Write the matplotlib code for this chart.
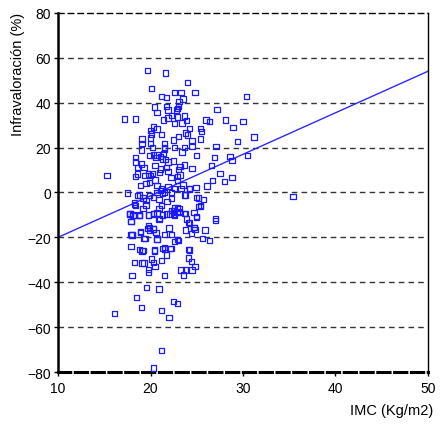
import numpy as np
import matplotlib.pyplot as plt

plt.rcParams['font.family'] = ['Liberation Sans', 'DejaVu Sans']

# IMC (x) and infravaloración (y)
imc = [19.7, 21.6, 24.0, 20.1, 21.2, 21.7, 22.6, 23.3, 23.5, 24.8, 30.4, 23.1, 20.4, 20.7,
       21.7, 21.9, 22.9, 23.0, 22.8, 27.2, 17.2, 18.4, 21.4, 21.9, 22.3, 22.9, 23.7, 23.9,
       22.6, 23.4, 26.0, 26.4, 28.1, 30.0, 28.9, 31.2, 29.4, 25.4, 25.5, 24.2, 23.8, 24.0,
       23.0, 22.5, 20.0, 20.3, 20.7, 21.2, 19.1, 19.1, 20.0, 20.0, 20.2,
       25.4, 24.5, 24.5, 23.7, 22.6, 21.5, 21.5, 27.1, 25.0, 26.9, 28.6, 28.8, 30.5, 26.6,
       27.5, 28.8, 28.0, 26.7, 26.1, 24.9, 24.2, 24.5,
       23.7, 23.2, 23.0, 23.2, 22.9, 22.9, 23.5, 23.3, 22.6, 22.3, 21.9, 22.2, 21.9, 21.7,
       21.9, 21.3, 20.6, 20.5, 20.2, 20.0, 19.9, 19.4, 18.4, 18.9, 18.6, 18.4, 18.4, 18.6,
       19.0, 19.3, 19.8, 19.9, 20.3, 20.7, 21.1, 21.5, 21.6, 21.1, 21.2, 20.7, 20.7, 21.1,
       21.3, 21.5, 15.3, 17.5, 18.6, 18.8, 19.2, 19.5, 19.9, 20.3, 19.5, 18.4, 18.3, 17.8,
       18.1, 18.8, 19.2, 19.8, 20.3, 20.9, 21.2, 22.3, 22.6, 23.1, 22.9, 22.5, 23.8, 23.7,
       24.7, 25.2, 25.7, 25.4, 25.0, 27.0, 35.4,
       17.7, 18.1, 18.8, 17.9, 19.8, 20.3, 20.7, 21.3, 21.7, 22.1, 22.6, 22.5, 23.1, 23.8,
       23.9, 24.2, 25.0, 25.4, 27.0, 24.7, 23.8, 24.4, 25.9, 25.6, 26.4, 19.8, 19.7, 20.3,
       19.9, 18.9, 17.9, 18.0, 19.3, 20.6, 20.7, 21.5, 22.0, 22.3, 22.6, 23.0, 21.0, 20.9,
       17.9, 18.8, 19.1, 20.4, 21.3, 21.5, 22.1, 21.7, 24.1, 24.2, 21.2, 24.1, 24.4, 24.8,
       24.5, 18.3, 19.1, 19.3, 20.1, 20.3, 20.5, 19.8, 19.8, 23.3, 23.8, 23.6, 21.5, 18.0,
       19.6, 20.9, 18.5, 22.5, 22.9, 19.0, 21.2, 16.1, 22.0, 21.2, 20.3,
       17.8, 17.9, 18.0, 18.8, 18.9, 19.2, 19.9, 20.3, 19.4, 20.7, 20.4, 21.5, 22.2, 22.9,
       24.7, 24.8, 24.1, 25.2, 25.0, 24.2, 23.7, 22.9, 23.1, 22.6, 22.3, 21.8, 20.9, 19.5,
       20.5, 21.0, 18.3, 19.0, 20.1, 21.4, 22.5, 23.4]

infra = [54.3, 53.3, 49.1, 46.4, 42.7, 42.2, 44.5, 44.5, 41.7, 44.5, 42.7, 40.5, 38.1, 35.6,
         38.4, 36.8, 37.5, 38.4, 36.8, 36.9, 32.8, 32.8, 32.3, 33.1, 34.2, 33.6, 34.0, 32.0,
         30.8, 31.0, 32.3, 31.7, 32.3, 31.7, 29.0, 24.7, 22.6, 28.6, 27.3, 28.6, 26.5, 25.6,
         24.9, 23.4, 27.5, 29.2, 28.3, 25.8, 23.8, 21.9, 24.3, 21.8, 20.0,
         23.8, 23.1, 20.4, 20.1, 20.1, 21.9, 20.0, 20.6, 16.4, 15.5, 16.1, 14.2, 16.4, 12.0,
         8.5, 6.6, 4.8, 5.4, 2.9, 2.1, 1.9, 10.8,
         12.3, 11.5, 10.2, 7.8, 7.1, 5.3, 3.3, 1.9, 1.9, 0.1, 2.6, 6.8, 9.3, 11.1,
         13.5, 14.9, 15.7, 12.0, 8.5, 7.5, 4.5, 7.5, 7.1, 3.1, 8.2, 15.7, 13.6, 11.2,
         12.7, 11.2, 8.2, 16.4, 16.7, 16.7, 16.1, 19.4, 14.8, 10.5, 1.6, 3.0, 0.1, 0.8,
         -0.4, 0.1, 7.5, -0.2, -1.4, -1.1, -2.5, -3.6, -1.4, -2.3, -5.6, -5.9, -5.4, -9.4,
         -10.0, -10.0, -7.1, -10.0, -9.3, -7.1, -5.9, -2.6, -6.9, -7.1, -8.8, -9.6, -1.1, -9.3,
         -9.0, -2.5, -3.2, -6.2, -11.1, -11.5, -1.9,
         -9.6, -10.3, -10.3, -13.0, -10.0, -9.6, -9.1, -10.0, -9.6, -9.6, -10.3, -8.2, -8.5, -9.4,
         -11.8, -13.6, -10.8, -5.9, -12.6, -15.5, -16.7, -18.3, -16.7, -20.4, -21.5, -14.8, -16.0, -16.3,
         -17.0, -17.8, -18.8, -18.9, -20.4, -17.8, -20.7, -18.8, -15.8, -18.8, -21.8, -21.3, -11.5, -12.1,
         -24.1, -25.5, -26.1, -26.1, -24.9, -25.2, -24.9, -27.9, -25.5, -25.6, -30.4, -29.2, -30.7, -33.1,
         -34.5, -31.1, -31.4, -31.4, -29.6, -31.1, -33.1, -34.4, -35.6, -34.5, -34.5, -36.8, -37.1, -37.1,
         -42.4, -43.0, -46.7, -48.6, -49.4, -51.3, -52.5, -54.0, -55.6, -70.5, -78.2,
         -9.6, -12.8, -19.0, -10.3, -17.5, -25.8, -15.5, -16.3, -20.4, -21.0, -25.6, -24.4, -24.9, -21.0,
         -15.5, -16.6, -13.3, -6.2, -2.2, 1.6, -1.1, -6.6, -8.8, -8.8, -8.1, -4.0, -3.0, 4.0,
         5.5, 9.0, -4.5, 19.0, 26.0, 17.5, 14.0, 18.0]

# regression line
slope = 1.85
intercept = -38.5
x_range = [10, 50]

fig = plt.figure(figsize=(4.43, 4.35), dpi=100)
ax = fig.add_axes([0.131, 0.1425, 0.835, 0.8255])

for yv in range(-60, 80, 20):
    ax.axhline(yv, color='#333333', lw=1.0, ls=(0, (4, 3)), zorder=0)

ax.scatter(imc, infra, marker='s', s=15, facecolors='none', edgecolors='#1a1aff',
           linewidths=0.9, zorder=3)

xl = np.array(x_range)
ax.plot(xl, np.polyval([slope, intercept], xl), color='#2a2aff', lw=1.0, zorder=2)

ax.set_xlim(10, 50)
ax.set_ylim(-80, 80)
ax.set_xticks([10, 20, 30, 40, 50])
ax.set_yticks(range(-80, 81, 20))
ax.tick_params(axis='both', labelsize=10, length=3, width=1, colors='black')
ax.tick_params(axis='y', pad=2)

ax.spines['left'].set_linewidth(1.8)
ax.spines['right'].set_linewidth(1.0)
ax.spines['top'].set_linewidth(1.0)
ax.spines['top'].set_linestyle((0, (4, 3)))
ax.spines['bottom'].set_linewidth(2.2)
ax.spines['bottom'].set_linestyle((0, (4, 1.5)))

fig.text(0.04, 0.97, 'Infravaloración (%)', rotation=90, ha='center', va='top', fontsize=10.5)
fig.text(0.978, 0.055, 'IMC (Kg/m2)', ha='right', va='center', fontsize=10.5)

fig.savefig('out.png', dpi=100)
